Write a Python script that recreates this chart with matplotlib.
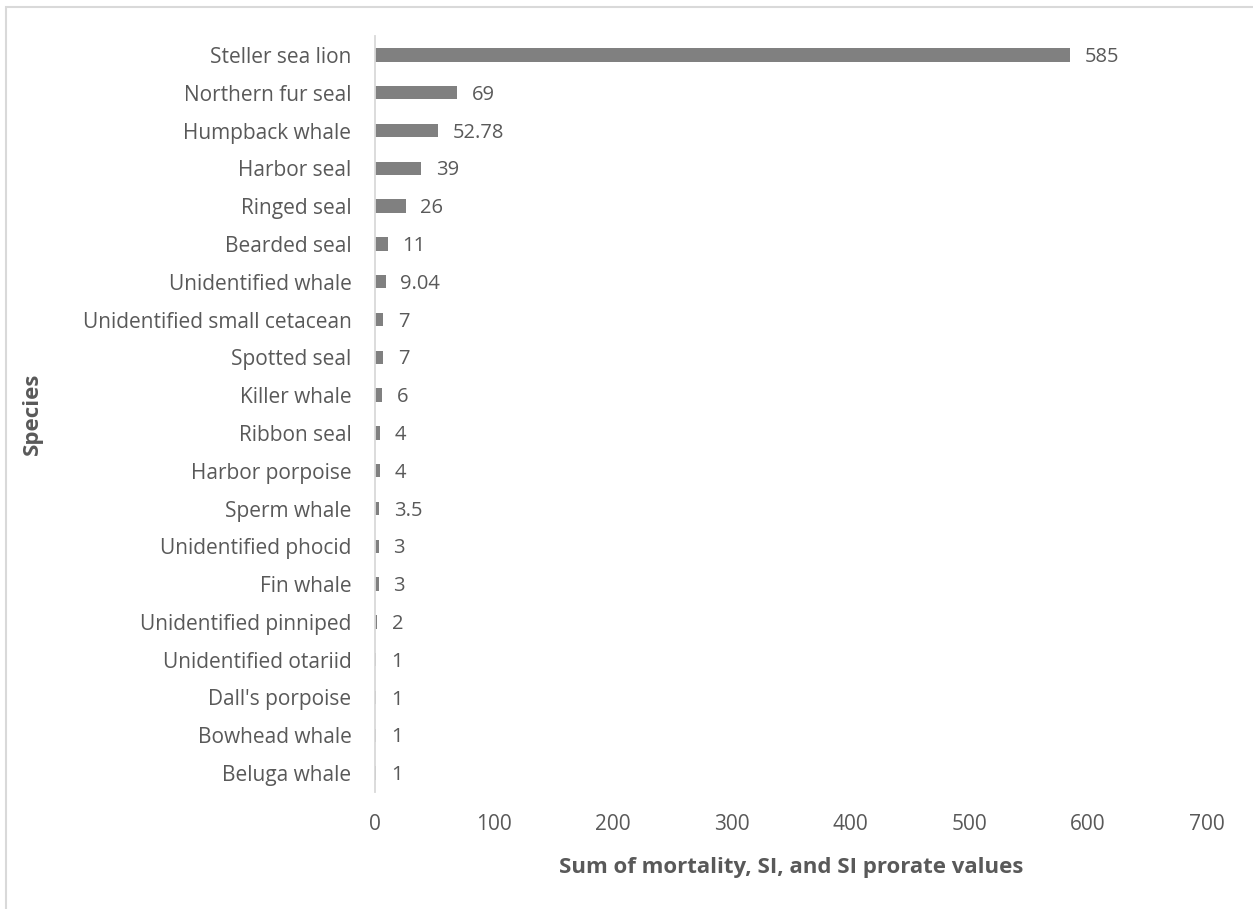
import matplotlib
matplotlib.use("Agg")
from matplotlib import pyplot as plt
from matplotlib.patches import Rectangle

species = ["Steller sea lion", "Northern fur seal", "Humpback whale", "Harbor seal",
           "Ringed seal", "Bearded seal", "Unidentified whale", "Unidentified small cetacean",
           "Spotted seal", "Killer whale", "Ribbon seal", "Harbor porpoise", "Sperm whale",
           "Unidentified phocid", "Fin whale", "Unidentified pinniped", "Unidentified otariid",
           "Dall's porpoise", "Bowhead whale", "Beluga whale"]
values = [585, 69, 52.78, 39, 26, 11, 9.04, 7, 7, 6, 4, 4, 3.5, 3, 3, 2, 1, 1, 1, 1]
value_labels = ["585", "69", "52.78", "39", "26", "11", "9.04", "7", "7", "6", "4", "4",
                "3.5", "3", "3", "2", "1", "1", "1", "1"]
xticks = [0, 100, 200, 300, 400, 500, 600, 700]

plt.rcParams['font.family'] = ['Open Sans', 'DejaVu Sans']
txt = "#595959"

fig = plt.figure(figsize=(12.53, 9.09), dpi=100)
ax = fig.add_axes([375 / 1253, 1 - 792 / 909, (1207 - 375) / 1253, (792 - 36) / 909])

ypos = list(range(len(species)))
ax.barh(ypos, values, height=0.35, color="#808080")
for y, v, lab in zip(ypos, values, value_labels):
    ax.annotate(lab, (v, y), xytext=(10.5, -1.5), textcoords="offset points",
                ha="left", va="center", fontsize=14.5, color=txt)

ax.set_ylim(len(species) - 0.5, -0.5)
ax.set_xlim(0, 700)
ax.set_yticks(ypos)
ax.set_yticklabels(species)
ax.set_xticks(xticks)
ax.tick_params(axis="y", length=0, pad=17, labelsize=15, labelcolor=txt)
ax.tick_params(axis="x", length=0, pad=16, labelsize=15, labelcolor=txt)

for s in ["top", "right", "bottom"]:
    ax.spines[s].set_visible(False)
ax.spines["left"].set_color("#d9d9d9")
ax.spines["left"].set_linewidth(1.3)

ax.set_xlabel("Sum of mortality, SI, and SI prorate values", fontsize=16,
              fontweight="bold", color=txt, labelpad=16)
fig.text(32 / 1253, 1 - 414 / 909, "Species", rotation=90, fontsize=16,
         fontweight="bold", color=txt, ha="center", va="center")

# outer chart border (cut off at right and bottom)
fig.patches.append(Rectangle((6 / 1253, -0.5), 2.0, 1.5 - 7 / 909,
                             transform=fig.transFigure, fill=False,
                             edgecolor="#d9d9d9", linewidth=1.5))

fig.savefig("out.png", dpi=100)
